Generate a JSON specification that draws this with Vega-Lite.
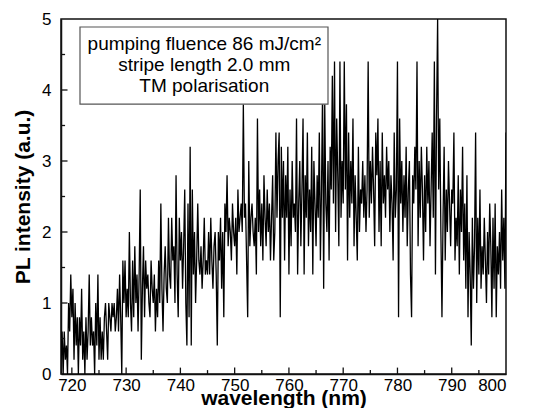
{
  "$schema": "https://vega.github.io/schema/vega-lite/v6.json",
  "width": 445,
  "height": 355,
  "autosize": {"type": "none"},
  "padding": {"left": 61, "top": 19, "right": 36, "bottom": 34},
  "config": {
    "font": "Liberation Sans",
    "view": {"stroke": "#111", "strokeWidth": 1.5},
    "axis": {"grid": false, "ticks": false, "domainColor": "#111", "domainWidth": 1.5, "labelColor": "#000", "labelFont": "Liberation Sans", "labelFontSize": 17, "titleFont": "Liberation Sans", "titleFontSize": 21, "titleFontWeight": "bold", "titleColor": "#000"}
  },
  "data": {"values": [
{"w":718.0,"i":0.2},{"w":718.2,"i":0.6},{"w":718.4,"i":0.0},{"w":718.6,"i":0.6},{"w":718.8,"i":0.2},{"w":719.0,"i":0.4},
{"w":719.2,"i":0.0},{"w":719.4,"i":1.0},{"w":719.6,"i":0.6},{"w":719.8,"i":1.4},{"w":720.0,"i":0.8},
{"w":720.2,"i":1.2},{"w":720.4,"i":0.2},{"w":720.6,"i":1.0},{"w":720.8,"i":0.4},{"w":721.0,"i":0.8},
{"w":721.2,"i":0.0},{"w":721.4,"i":0.8},{"w":721.6,"i":0.4},{"w":721.8,"i":1.2},{"w":722.0,"i":0.2},
{"w":722.2,"i":0.6},{"w":722.4,"i":0.0},{"w":722.6,"i":0.8},{"w":722.8,"i":0.2},{"w":723.0,"i":0.6},
{"w":723.2,"i":1.4},{"w":723.4,"i":0.4},{"w":723.6,"i":0.8},{"w":723.8,"i":0.4},{"w":724.0,"i":0.6},
{"w":724.2,"i":0.0},{"w":724.4,"i":1.0},{"w":724.6,"i":0.4},{"w":724.8,"i":1.4},{"w":725.0,"i":0.2},
{"w":725.2,"i":0.8},{"w":725.4,"i":0.2},{"w":725.6,"i":0.6},{"w":725.8,"i":0.2},{"w":726.0,"i":0.8},
{"w":726.2,"i":1.0},{"w":726.4,"i":0.6},{"w":726.6,"i":0.2},{"w":726.8,"i":1.0},{"w":727.0,"i":0.8},
{"w":727.2,"i":0.6},{"w":727.4,"i":1.0},{"w":727.6,"i":0.8},{"w":727.8,"i":1.0},{"w":728.0,"i":0.6},
{"w":728.2,"i":0.8},{"w":728.4,"i":1.2},{"w":728.6,"i":0.6},{"w":728.8,"i":1.4},{"w":729.0,"i":0.8},
{"w":729.2,"i":0.0},{"w":729.4,"i":1.6},{"w":729.6,"i":1.0},{"w":729.8,"i":1.6},{"w":730.0,"i":0.8},
{"w":730.2,"i":1.2},{"w":730.4,"i":0.8},{"w":730.6,"i":2.0},{"w":730.8,"i":1.0},{"w":731.0,"i":0.6},
{"w":731.2,"i":1.6},{"w":731.4,"i":0.8},{"w":731.6,"i":1.8},{"w":731.8,"i":1.0},{"w":732.0,"i":1.4},
{"w":732.2,"i":0.6},{"w":732.4,"i":1.4},{"w":732.6,"i":2.6},{"w":732.8,"i":0.2},{"w":733.0,"i":1.2},
{"w":733.2,"i":1.8},{"w":733.4,"i":0.8},{"w":733.6,"i":1.6},{"w":733.8,"i":1.2},{"w":734.0,"i":1.4},
{"w":734.2,"i":1.0},{"w":734.4,"i":0.8},{"w":734.6,"i":1.6},{"w":734.8,"i":1.2},{"w":735.0,"i":1.0},
{"w":735.2,"i":1.4},{"w":735.4,"i":0.6},{"w":735.6,"i":1.2},{"w":735.8,"i":0.8},{"w":736.0,"i":1.6},
{"w":736.2,"i":1.0},{"w":736.4,"i":2.4},{"w":736.6,"i":1.2},{"w":736.8,"i":0.6},{"w":737.0,"i":1.4},
{"w":737.2,"i":1.8},{"w":737.4,"i":1.2},{"w":737.6,"i":1.0},{"w":737.8,"i":2.2},{"w":738.0,"i":1.4},
{"w":738.2,"i":1.2},{"w":738.4,"i":2.2},{"w":738.6,"i":1.6},{"w":738.8,"i":1.8},{"w":739.0,"i":1.0},
{"w":739.2,"i":2.8},{"w":739.4,"i":1.4},{"w":739.6,"i":0.8},{"w":739.8,"i":2.2},{"w":740.0,"i":1.6},
{"w":740.2,"i":2.0},{"w":740.4,"i":1.2},{"w":740.6,"i":1.8},{"w":740.8,"i":2.6},{"w":741.0,"i":1.0},
{"w":741.2,"i":0.4},{"w":741.4,"i":2.4},{"w":741.6,"i":0.8},{"w":741.8,"i":3.2},{"w":742.0,"i":0.4},
{"w":742.2,"i":2.6},{"w":742.4,"i":1.4},{"w":742.6,"i":2.0},{"w":742.8,"i":1.0},{"w":743.0,"i":1.6},
{"w":743.2,"i":2.4},{"w":743.4,"i":1.6},{"w":743.6,"i":1.4},{"w":743.8,"i":1.8},{"w":744.0,"i":1.2},
{"w":744.2,"i":1.6},{"w":744.4,"i":2.2},{"w":744.6,"i":1.4},{"w":744.8,"i":1.6},{"w":745.0,"i":1.4},
{"w":745.2,"i":2.0},{"w":745.4,"i":1.4},{"w":745.6,"i":2.2},{"w":745.8,"i":1.6},{"w":746.0,"i":1.2},
{"w":746.2,"i":1.8},{"w":746.4,"i":2.0},{"w":746.6,"i":1.4},{"w":746.8,"i":0.4},{"w":747.0,"i":2.0},
{"w":747.2,"i":1.6},{"w":747.4,"i":2.2},{"w":747.6,"i":1.2},{"w":747.8,"i":2.0},{"w":748.0,"i":0.8},
{"w":748.2,"i":2.4},{"w":748.4,"i":2.0},{"w":748.6,"i":2.8},{"w":748.8,"i":1.8},{"w":749.0,"i":2.2},
{"w":749.2,"i":2.0},{"w":749.4,"i":1.6},{"w":749.6,"i":2.4},{"w":749.8,"i":2.0},{"w":750.0,"i":1.8},
{"w":750.2,"i":2.2},{"w":750.4,"i":1.4},{"w":750.6,"i":2.6},{"w":750.8,"i":2.0},{"w":751.0,"i":2.2},
{"w":751.2,"i":2.4},{"w":751.4,"i":2.0},{"w":751.6,"i":3.8},{"w":751.8,"i":2.2},{"w":752.0,"i":2.4},
{"w":752.2,"i":1.6},{"w":752.4,"i":0.8},{"w":752.6,"i":3.0},{"w":752.8,"i":1.8},{"w":753.0,"i":2.2},
{"w":753.2,"i":2.4},{"w":753.4,"i":2.0},{"w":753.6,"i":1.8},{"w":753.8,"i":2.2},{"w":754.0,"i":1.4},
{"w":754.2,"i":3.6},{"w":754.4,"i":2.0},{"w":754.6,"i":2.6},{"w":754.8,"i":1.8},{"w":755.0,"i":2.4},
{"w":755.2,"i":1.6},{"w":755.4,"i":2.8},{"w":755.6,"i":2.2},{"w":755.8,"i":1.8},{"w":756.0,"i":2.6},
{"w":756.2,"i":2.0},{"w":756.4,"i":2.4},{"w":756.6,"i":1.6},{"w":756.8,"i":2.2},{"w":757.0,"i":2.8},
{"w":757.2,"i":1.6},{"w":757.4,"i":2.0},{"w":757.6,"i":3.4},{"w":757.8,"i":2.2},{"w":758.0,"i":3.0},
{"w":758.2,"i":3.4},{"w":758.4,"i":0.8},{"w":758.6,"i":3.2},{"w":758.8,"i":2.2},{"w":759.0,"i":3.0},
{"w":759.2,"i":1.6},{"w":759.4,"i":2.8},{"w":759.6,"i":2.2},{"w":759.8,"i":3.2},{"w":760.0,"i":1.4},
{"w":760.2,"i":2.6},{"w":760.4,"i":1.8},{"w":760.6,"i":3.0},{"w":760.8,"i":2.2},{"w":761.0,"i":2.4},
{"w":761.2,"i":2.0},{"w":761.4,"i":3.6},{"w":761.6,"i":1.4},{"w":761.8,"i":2.4},{"w":762.0,"i":3.0},
{"w":762.2,"i":1.8},{"w":762.4,"i":2.6},{"w":762.6,"i":3.6},{"w":762.8,"i":1.4},{"w":763.0,"i":2.8},
{"w":763.2,"i":2.2},{"w":763.4,"i":3.4},{"w":763.6,"i":1.8},{"w":763.8,"i":2.6},{"w":764.0,"i":2.0},
{"w":764.2,"i":3.2},{"w":764.4,"i":1.4},{"w":764.6,"i":3.0},{"w":764.8,"i":2.4},{"w":765.0,"i":1.8},
{"w":765.2,"i":2.8},{"w":765.4,"i":2.2},{"w":765.6,"i":3.4},{"w":765.8,"i":1.6},{"w":766.0,"i":2.6},
{"w":766.2,"i":4.0},{"w":766.4,"i":1.2},{"w":766.6,"i":3.8},{"w":766.8,"i":2.4},{"w":767.0,"i":2.0},
{"w":767.2,"i":3.0},{"w":767.4,"i":1.6},{"w":767.6,"i":3.2},{"w":767.8,"i":2.6},{"w":768.0,"i":4.2},
{"w":768.2,"i":2.4},{"w":768.4,"i":4.4},{"w":768.6,"i":2.0},{"w":768.8,"i":3.6},{"w":769.0,"i":2.8},
{"w":769.2,"i":1.8},{"w":769.4,"i":4.4},{"w":769.6,"i":2.2},{"w":769.8,"i":3.0},{"w":770.0,"i":2.4},
{"w":770.2,"i":4.4},{"w":770.4,"i":2.6},{"w":770.6,"i":3.8},{"w":770.8,"i":1.6},{"w":771.0,"i":3.4},
{"w":771.2,"i":2.2},{"w":771.4,"i":3.0},{"w":771.6,"i":2.4},{"w":771.8,"i":3.6},{"w":772.0,"i":1.8},
{"w":772.2,"i":2.8},{"w":772.4,"i":2.2},{"w":772.6,"i":1.6},{"w":772.8,"i":3.2},{"w":773.0,"i":2.0},
{"w":773.2,"i":2.6},{"w":773.4,"i":2.4},{"w":773.6,"i":3.0},{"w":773.8,"i":2.2},{"w":774.0,"i":2.8},
{"w":774.2,"i":2.0},{"w":774.4,"i":2.6},{"w":774.6,"i":4.4},{"w":774.8,"i":2.2},{"w":775.0,"i":3.0},
{"w":775.2,"i":2.4},{"w":775.4,"i":3.2},{"w":775.6,"i":2.6},{"w":775.8,"i":1.8},{"w":776.0,"i":3.4},
{"w":776.2,"i":2.8},{"w":776.4,"i":3.6},{"w":776.6,"i":2.0},{"w":776.8,"i":3.0},{"w":777.0,"i":1.8},
{"w":777.2,"i":3.4},{"w":777.4,"i":2.4},{"w":777.6,"i":2.8},{"w":777.8,"i":2.2},{"w":778.0,"i":3.2},
{"w":778.2,"i":2.6},{"w":778.4,"i":3.0},{"w":778.6,"i":2.0},{"w":778.8,"i":2.8},{"w":779.0,"i":2.4},
{"w":779.2,"i":1.6},{"w":779.4,"i":3.4},{"w":779.6,"i":2.2},{"w":779.8,"i":2.6},{"w":780.0,"i":4.4},
{"w":780.2,"i":0.8},{"w":780.4,"i":3.6},{"w":780.6,"i":2.4},{"w":780.8,"i":3.0},{"w":781.0,"i":2.0},
{"w":781.2,"i":2.8},{"w":781.4,"i":2.2},{"w":781.6,"i":3.2},{"w":781.8,"i":1.8},{"w":782.0,"i":2.6},
{"w":782.2,"i":3.0},{"w":782.4,"i":1.4},{"w":782.6,"i":0.8},{"w":782.8,"i":2.8},{"w":783.0,"i":2.4},
{"w":783.2,"i":3.2},{"w":783.4,"i":2.6},{"w":783.6,"i":4.4},{"w":783.8,"i":1.8},{"w":784.0,"i":3.0},
{"w":784.2,"i":2.2},{"w":784.4,"i":3.2},{"w":784.6,"i":2.6},{"w":784.8,"i":1.6},{"w":785.0,"i":2.8},
{"w":785.2,"i":2.0},{"w":785.4,"i":3.2},{"w":785.6,"i":2.4},{"w":785.8,"i":3.0},{"w":786.0,"i":1.8},
{"w":786.2,"i":2.6},{"w":786.4,"i":3.4},{"w":786.6,"i":2.2},{"w":786.8,"i":4.4},{"w":787.0,"i":1.4},
{"w":787.2,"i":3.6},{"w":787.4,"i":5.0},{"w":787.6,"i":2.6},{"w":787.8,"i":3.6},{"w":788.0,"i":2.0},
{"w":788.2,"i":0.8},{"w":788.4,"i":2.2},{"w":788.6,"i":3.2},{"w":788.8,"i":1.6},{"w":789.0,"i":2.6},
{"w":789.2,"i":2.0},{"w":789.4,"i":3.0},{"w":789.6,"i":2.4},{"w":789.8,"i":1.8},{"w":790.0,"i":2.6},
{"w":790.2,"i":2.4},{"w":790.4,"i":3.4},{"w":790.6,"i":1.6},{"w":790.8,"i":2.2},{"w":791.0,"i":1.8},
{"w":791.2,"i":2.8},{"w":791.4,"i":1.4},{"w":791.6,"i":2.6},{"w":791.8,"i":2.0},{"w":792.0,"i":3.2},
{"w":792.2,"i":1.6},{"w":792.4,"i":2.4},{"w":792.6,"i":1.2},{"w":792.8,"i":2.8},{"w":793.0,"i":0.8},
{"w":793.2,"i":2.0},{"w":793.4,"i":1.4},{"w":793.6,"i":0.4},{"w":793.8,"i":2.2},{"w":794.0,"i":1.2},
{"w":794.2,"i":1.8},{"w":794.4,"i":3.4},{"w":794.6,"i":1.0},{"w":794.8,"i":2.2},{"w":795.0,"i":1.4},
{"w":795.2,"i":2.6},{"w":795.4,"i":1.2},{"w":795.6,"i":1.8},{"w":795.8,"i":1.4},{"w":796.0,"i":2.2},
{"w":796.2,"i":1.6},{"w":796.4,"i":1.0},{"w":796.6,"i":2.0},{"w":796.8,"i":1.4},{"w":797.0,"i":2.4},
{"w":797.2,"i":1.8},{"w":797.4,"i":0.8},{"w":797.6,"i":2.2},{"w":797.8,"i":1.2},{"w":798.0,"i":2.4},
{"w":798.2,"i":0.8},{"w":798.4,"i":1.8},{"w":798.6,"i":1.4},{"w":798.8,"i":2.0},{"w":799.0,"i":1.2},
{"w":799.2,"i":2.6},{"w":799.4,"i":1.6},{"w":799.6,"i":2.2},{"w":799.8,"i":1.2},{"w":800.0,"i":3.4}
  ]},
  "layer": [
    {
      "mark": {"type": "line", "color": "#000", "strokeWidth": 1.3, "clip": true},
      "encoding": {
        "x": {"field": "w", "type": "quantitative", "title": "wavelength (nm)", "scale": {"domain": [718, 800], "nice": false, "zero": false},
          "axis": {"title": "wavelength (nm)", "values": [720,730,740,750,760,770,780,790,800], "format": "d",
            "labelPadding": 3, "titlePadding": -6}},
        "y": {"field": "i", "type": "quantitative", "title": "PL intensity (a.u.)", "scale": {"domain": [0, 5], "nice": false},
          "axis": {"title": "PL intensity (a.u.)", "values": [0,1,2,3,4,5], "format": "d",
            "labelPadding": 10, "titlePadding": 8}}
      }
    },
    {
      "data": {"values": [{"t":720},{"t":730},{"t":740},{"t":750},{"t":760},{"t":770},{"t":780},{"t":790}]},
      "mark": {"type": "rule", "color": "#111", "strokeWidth": 1.3},
      "encoding": {
        "x": {"field": "t", "type": "quantitative", "title": "wavelength (nm)"},
        "y": {"datum": 0, "type": "quantitative"},
        "y2": {"datum": 0.09}
      }
    },
    {
      "data": {"values": [{"t":725},{"t":735},{"t":745},{"t":755},{"t":765},{"t":775},{"t":785},{"t":795}]},
      "mark": {"type": "rule", "color": "#111", "strokeWidth": 1.3},
      "encoding": {
        "x": {"field": "t", "type": "quantitative", "title": "wavelength (nm)"},
        "y": {"datum": 0, "type": "quantitative"},
        "y2": {"datum": 0.055}
      }
    },
    {
      "data": {"values": [{"t":1},{"t":2},{"t":3},{"t":4}]},
      "mark": {"type": "rule", "color": "#111", "strokeWidth": 1.3},
      "encoding": {
        "y": {"field": "t", "type": "quantitative", "title": "PL intensity (a.u.)"},
        "x": {"datum": 718, "type": "quantitative"},
        "x2": {"datum": 719.2}
      }
    },
    {
      "data": {"values": [{"t":0.5},{"t":1.5},{"t":2.5},{"t":3.5},{"t":4.5}]},
      "mark": {"type": "rule", "color": "#111", "strokeWidth": 1.3},
      "encoding": {
        "y": {"field": "t", "type": "quantitative", "title": "PL intensity (a.u.)"},
        "x": {"datum": 718, "type": "quantitative"},
        "x2": {"datum": 718.75}
      }
    },
    {
      "data": {"values": [{}]},
      "mark": {"type": "rect", "fill": "#fff", "stroke": "#555", "strokeWidth": 1.2},
      "encoding": {
        "x": {"datum": 721.5, "type": "quantitative"},
        "x2": {"datum": 767.2},
        "y": {"datum": 4.887, "type": "quantitative"},
        "y2": {"datum": 3.8}
      }
    },
    {
      "data": {"values": [{}]},
      "mark": {"type": "text", "font": "Liberation Sans", "fontSize": 19, "color": "#000", "align": "center", "baseline": "middle", "lineHeight": 21,
        "text": ["pumping fluence 86 mJ/cm²", "stripe length 2.0 mm", "TM polarisation"]},
      "encoding": {
        "x": {"datum": 744.4, "type": "quantitative"},
        "y": {"datum": 4.65, "type": "quantitative"}
      }
    }
  ]
}
